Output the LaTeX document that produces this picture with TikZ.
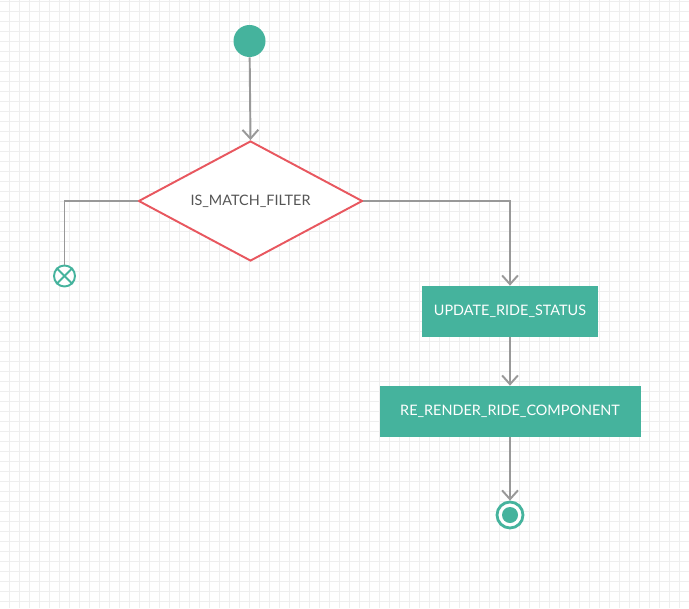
\documentclass[tikz,border=0pt]{standalone}
\usepackage{fontspec}
\setmainfont{Lato}
\usetikzlibrary{arrows.meta}
\usetikzlibrary{shapes.geometric}
\definecolor{mteal}{RGB}{69, 179, 157}
\definecolor{mred}{RGB}{232, 87, 95}
\definecolor{mgrey}{RGB}{153, 153, 153}
\definecolor{mtext}{RGB}{85, 85, 85}
\definecolor{mgrid}{RGB}{238, 238, 238}
\tikzset{gridline/.style = {draw = mgrid, line width = 0.35pt}}
\tikzset{flow/.style = {draw = mgrey, line width = 1.1pt}}
\tikzset{arr/.style = {flow, -{Straight Barb[length = 5pt, width = 9pt, line width = 1.1pt]}}}
\tikzset{act/.style = {fill = mteal, text = white, minimum height = 1.02cm, inner sep = 0, font = \fontsize{8.2}{10}\selectfont}}
\tikzset{decision/.style = {diamond, aspect = 1.87, draw = mred, fill = white, line width = 1.1pt, minimum width = 4.48cm, minimum height = 2.4cm, inner sep = 0, text = mtext, font = \fontsize{8.2}{10}\selectfont}}

\begin{document}
\begin{tikzpicture}
      \fill [white] (0, 0) rectangle (13.78, -12.16);
      \useasboundingbox (0, 0) rectangle (13.78, -12.16);
      \draw [gridline, xshift = 0.19cm, yshift = -0.03cm] (-0.19, -12.13) grid [step = 0.2] (13.59, 0.03);

      \node [fill = mteal, circle, inner sep = 0, minimum size = 0.64cm] (start) at (4.99, -0.82) {};
      \node [decision] (filter) at (5.01, -4.02) {IS\_MATCH\_FILTER};
      \node [draw = mteal, fill = white, line width = 1.1pt, circle, inner sep = 0, minimum size = 0.42cm] (stop) at (1.29, -5.52) {};
      \node [act, minimum width = 3.52cm] (update) at (10.2, -6.23) {UPDATE\_RIDE\_STATUS};
      \node [act, minimum width = 5.22cm] (render) at (10.2, -8.23) {RE\_RENDER\_RIDE\_COMPONENT};
      \node [draw = mteal, fill = white, line width = 1.6pt, circle, inner sep = 0, minimum size = 0.52cm] (final) at (10.2, -10.3) {};
      \node [fill = mteal, circle, inner sep = 0, minimum size = 0.32cm] (dot) at (final) {};

      \foreach \a in {45, 135, 225, 315} {
        \draw [mteal, line width = 1.1pt] (stop.center) -- (stop.\a);
      }

      \draw [arr] (start) -- (filter.north);
      \draw [flow] (filter.west) -| (stop.north);
      \draw [arr] (filter.east) -| (update.north);
      \draw [arr] (update) -- (render);
      \draw [arr] (render) -- (final);
    \end{tikzpicture}
\end{document}
